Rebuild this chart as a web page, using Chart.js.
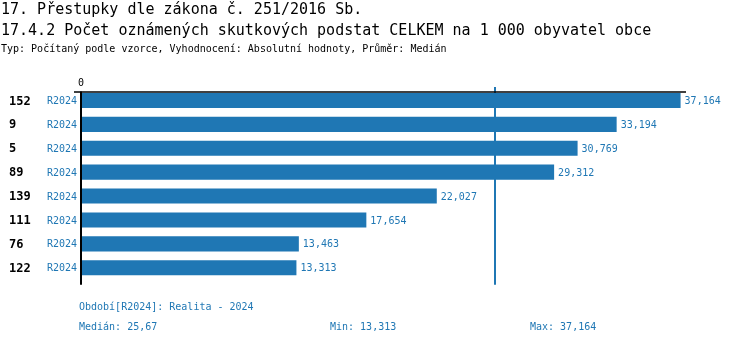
<!DOCTYPE html>
<html>
<head>
<meta charset="utf-8">
<script src="https://cdn.jsdelivr.net/npm/chart.js@4"></script>
<style>
  body { margin: 0; background: #fff; width: 750px; height: 344px; overflow: hidden; position: relative; font-family: "DejaVu Sans Mono", monospace; }
  #wrap { position: absolute; left: 0; top: 0; width: 750px; height: 344px; }
  .t { position: absolute; white-space: nowrap; transform-origin: 0 0; }
  #t1 { left: 1px; top: 0px; font-size: 15px; color: #000; }
  #t2 { left: 1px; top: 21px; font-size: 15px; color: #000; }
  #t3 { left: 1px; top: 43px; font-size: 10px; color: #000; }
  .f { font-size: 10px; color: #1f77b4; }
</style>
</head>
<body>
<div id="wrap"><canvas id="chart" width="750" height="344"></canvas></div>
<div class="t" id="t1">17. Přestupky dle zákona č. 251/2016 Sb.</div>
<div class="t" id="t2">17.4.2 Počet oznámených skutkových podstat CELKEM na 1 000 obyvatel obce</div>
<div class="t" id="t3">Typ: Počítaný podle vzorce, Vyhodnocení: Absolutní hodnoty, Průměr: Medián</div>
<div class="t f" style="left:79px; top:301px;">Období[R2024]: Realita - 2024</div>
<div class="t f" id="fMed" style="left:79px; top:321px;"></div>
<div class="t f" id="fMin" style="left:330px; top:321px;"></div>
<div class="t f" id="fMax" style="left:530px; top:321px;"></div>
<script>
const categories = ['152', '9', '5', '89', '139', '111', '76', '122'];
const periodLabel = 'R2024';
const values = [37.164, 33.194, 30.769, 29.312, 22.027, 17.654, 13.463, 13.313];
const xTicks = [0];

const blue = '#1f77b4';

function fmt(v, d) {
    return v.toFixed(d).replace('.', ',');
}

// median of the plotted values
const sorted = [...values].sort((a, b) => a - b);
const median = (sorted[3] + sorted[4]) / 2;

document.getElementById('fMed').textContent = 'Medián: ' + fmt(median, 2);
document.getElementById('fMin').textContent = 'Min: ' + fmt(Math.min(...values), 3);
document.getElementById('fMax').textContent = 'Max: ' + fmt(Math.max(...values), 3);

const extras = {
    id: 'extras',
    afterDatasetsDraw(chart) {
        const c = chart.ctx;
        const x = chart.scales.x;
        const y = chart.scales.y;
        const area = chart.chartArea;
        c.save();

        // median line
        const mx = Math.round(x.getPixelForValue(median));
        c.strokeStyle = blue;
        c.lineWidth = 2;
        c.beginPath();
        c.moveTo(mx, area.top - 1.5);
        c.lineTo(mx, area.bottom + 5);
        c.stroke();

        // axes
        c.strokeStyle = '#000';
        c.lineWidth = 2;
        c.beginPath();
        c.moveTo(x.getPixelForValue(0) - 1, area.top + 3);
        c.lineTo(x.getPixelForValue(0) - 1, area.bottom + 5);
        c.stroke();
        c.lineWidth = 1.5;
        c.beginPath();
        c.moveTo(x.getPixelForValue(0) - 8, area.top + 3.5);
        c.lineTo(area.right, area.top + 3.5);
        c.stroke();

        // tick labels
        c.fillStyle = '#000';
        c.font = '10px "DejaVu Sans Mono"';
        c.textAlign = 'center';
        c.textBaseline = 'alphabetic';
        xTicks.forEach(t => c.fillText(String(t), x.getPixelForValue(t) - 1, area.top - 3));

        // row labels and values
        c.textBaseline = 'middle';
        categories.forEach((cat, i) => {
            const py = y.getPixelForValue(i) + 1;
            c.textAlign = 'left';
            c.fillStyle = '#000';
            c.font = 'bold 12px "DejaVu Sans Mono"';
            c.fillText(cat, 9, py);
            c.fillStyle = blue;
            c.font = '10px "DejaVu Sans Mono"';
            c.fillText(periodLabel, 47, py);
            c.fillText(fmt(values[i], 3), x.getPixelForValue(values[i]) + 4, py);
        });
        c.restore();
    }
};

const ctx = document.getElementById('chart').getContext('2d');
new Chart(ctx, {
    type: 'bar',
    data: {
        labels: categories,
        datasets: [{
            data: values,
            backgroundColor: blue,
            borderWidth: 0,
            barPercentage: 0.63,
            categoryPercentage: 1
        }]
    },
    options: {
        indexAxis: 'y',
        responsive: false,
        animation: false,
        layout: { padding: { left: 82, right: 64, top: 88.5, bottom: 64.3 } },
        plugins: { legend: { display: false }, tooltip: { enabled: false } },
        scales: {
            x: { display: false, min: 0, max: 37.5 },
            y: { display: false }
        }
    },
    plugins: [extras]
});
</script>
</body>
</html>
